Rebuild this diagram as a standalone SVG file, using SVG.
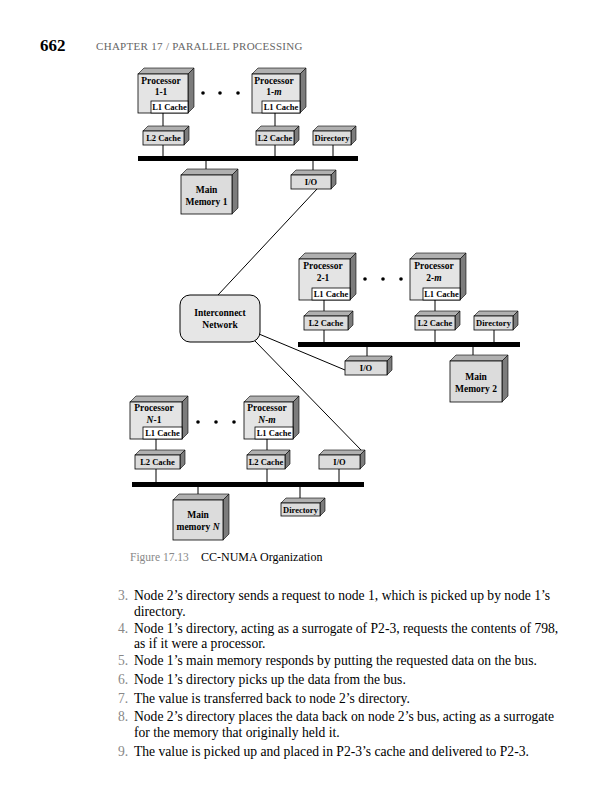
<svg xmlns="http://www.w3.org/2000/svg" width="604" height="800" viewBox="0 0 604 800">
<style>
.fr{fill:#dcdcdc;stroke:#000;stroke-width:0.8}
.pf{fill:#e4e4e4;stroke:#000;stroke-width:0.8}
.tp{fill:#b0b0b0;stroke:#000;stroke-width:0.6}
.rt{fill:#7c7c7c;stroke:#000;stroke-width:0.6}
.l1{fill:#fff;stroke:#000;stroke-width:0.8}
.ln{stroke:#000;stroke-width:1;fill:none}
.bus{fill:#000}
.t{font-family:"Liberation Serif","Times New Roman",serif;font-weight:bold;font-size:9.5px;text-anchor:middle;fill:#000}
.ts{font-family:"Liberation Serif","Times New Roman",serif;font-weight:bold;font-size:8.5px;text-anchor:middle;fill:#000}
.body{font-family:"Liberation Serif","Times New Roman",serif;font-size:13.6px;fill:#000}
.num{font-family:"Liberation Serif","Times New Roman",serif;font-size:13.6px;fill:#888}
</style>
<rect width="604" height="800" fill="#fff"/>
<text x="40" y="51" style="font-family:'Liberation Serif',serif;font-weight:bold;font-size:17px">662</text>
<text x="96" y="50" style="font-family:'Liberation Serif',serif;font-size:11px;letter-spacing:0.3px;fill:#666">CHAPTER 17 / PARALLEL PROCESSING</text>

<g id="connectors">
<line class="ln" x1="163" y1="113" x2="163" y2="158"/>
<line class="ln" x1="275" y1="113" x2="275" y2="158"/>
<line class="ln" x1="333" y1="145" x2="333" y2="158"/>
<line class="ln" x1="206" y1="158" x2="206" y2="175"/>
<line class="ln" x1="313" y1="158" x2="313" y2="175"/>
<line class="ln" x1="324" y1="300" x2="324" y2="344"/>
<line class="ln" x1="435" y1="300" x2="435" y2="344"/>
<line class="ln" x1="494" y1="330" x2="494" y2="344"/>
<line class="ln" x1="367" y1="344" x2="367" y2="361"/>
<line class="ln" x1="473" y1="344" x2="473" y2="361"/>
<line class="ln" x1="156" y1="439" x2="156" y2="484"/>
<line class="ln" x1="267" y1="439" x2="267" y2="484"/>
<line class="ln" x1="339" y1="469" x2="339" y2="484"/>
<line class="ln" x1="198" y1="484" x2="198" y2="500"/>
<line class="ln" x1="300" y1="484" x2="300" y2="503"/>
<line class="ln" x1="317" y1="189" x2="218" y2="295"/>
<line class="ln" x1="259" y1="334" x2="345" y2="370"/>
<line class="ln" x1="255" y1="341" x2="362" y2="451"/>
<rect class="bus" x="138" y="156" width="220" height="5"/>
<rect class="bus" x="298" y="342" width="222" height="5"/>
<rect class="bus" x="132" y="482" width="232" height="5"/>
</g>

<!-- Node 1 -->
<g id="p1-1">
<polygon class="tp" points="138,74 144,68 194,68 188,74"/>
<polygon class="rt" points="188,74 194,68 194,107 188,113"/>
<rect class="pf" x="138" y="74" width="50" height="39"/>
<rect class="l1" x="151" y="101" width="37" height="12"/>
<text class="t" x="161" y="84">Processor</text>
<text class="t" x="161" y="95">1-1</text>
<text class="ts" x="169.5" y="110">L1 Cache</text>
</g>
<g id="dots1"><circle cx="203" cy="93" r="1.8"/><circle cx="220" cy="93" r="1.8"/><circle cx="238" cy="93" r="1.8"/></g>
<g id="p1-m">
<polygon class="tp" points="252,74 258,68 306,68 300,74"/>
<polygon class="rt" points="300,74 306,68 306,107 300,113"/>
<rect class="pf" x="252" y="74" width="48" height="39"/>
<rect class="l1" x="262" y="101" width="38" height="12"/>
<text class="t" x="274" y="84">Processor</text>
<text class="t" x="274" y="95">1-<tspan font-style="italic">m</tspan></text>
<text class="ts" x="281" y="110">L1 Cache</text>
</g>
<g id="l2-1-1">
<polygon class="tp" points="143,131 148,126 189,126 184,131"/>
<polygon class="rt" points="184,131 189,126 189,140 184,145"/>
<rect class="fr" x="143" y="131" width="41" height="14"/>
<text class="ts" x="163.5" y="141">L2 Cache</text>
</g>
<g id="l2-1-m">
<polygon class="tp" points="256,131 261,126 299,126 294,131"/>
<polygon class="rt" points="294,131 299,126 299,140 294,145"/>
<rect class="fr" x="256" y="131" width="38" height="14"/>
<text class="ts" x="275" y="141">L2 Cache</text>
</g>
<g id="dir1">
<polygon class="tp" points="313,131 318,126 356,126 351,131"/>
<polygon class="rt" points="351,131 356,126 356,140 351,145"/>
<rect class="fr" x="313" y="131" width="38" height="14"/>
<text class="ts" x="332" y="141">Directory</text>
</g>
<g id="mm1">
<polygon class="tp" points="181,175 187,169 238,169 232,175"/>
<polygon class="rt" points="232,175 238,169 238,208 232,214"/>
<rect class="fr" x="181" y="175" width="51" height="39"/>
<text class="t" x="206.5" y="193">Main</text>
<text class="t" x="206.5" y="205">Memory 1</text>
</g>
<g id="io1">
<polygon class="tp" points="291,175 296,170 336,170 331,175"/>
<polygon class="rt" points="331,175 336,170 336,184 331,189"/>
<rect class="fr" x="291" y="175" width="40" height="14"/>
<text class="ts" x="311" y="185">I/O</text>
</g>

<g id="interconnect">
<rect x="180" y="295" width="80" height="47" rx="10" ry="10" fill="#e6e6e6" stroke="#000" stroke-width="1"/>
<text class="t" x="220" y="316">Interconnect</text>
<text class="t" x="220" y="328">Network</text>
</g>

<!-- Node 2 -->
<g id="p2-1">
<polygon class="tp" points="299,259 305,253 356,253 350,259"/>
<polygon class="rt" points="350,259 356,253 356,294 350,300"/>
<rect class="pf" x="299" y="259" width="51" height="41"/>
<rect class="l1" x="312" y="288" width="38" height="12"/>
<text class="t" x="323" y="269">Processor</text>
<text class="t" x="323" y="281">2-1</text>
<text class="ts" x="331" y="297">L1 Cache</text>
</g>
<g id="dots2"><circle cx="365" cy="279" r="1.8"/><circle cx="383" cy="279" r="1.8"/><circle cx="401" cy="279" r="1.8"/></g>
<g id="p2-m">
<polygon class="tp" points="410,259 416,253 466,253 460,259"/>
<polygon class="rt" points="460,259 466,253 466,294 460,300"/>
<rect class="pf" x="410" y="259" width="50" height="41"/>
<rect class="l1" x="423" y="288" width="37" height="12"/>
<text class="t" x="434" y="269">Processor</text>
<text class="t" x="434" y="281">2-<tspan font-style="italic">m</tspan></text>
<text class="ts" x="441.5" y="297">L1 Cache</text>
</g>
<g id="l2-2-1">
<polygon class="tp" points="304,316 309,311 353,311 348,316"/>
<polygon class="rt" points="348,316 353,311 353,325 348,330"/>
<rect class="fr" x="304" y="316" width="44" height="14"/>
<text class="ts" x="326" y="326">L2 Cache</text>
</g>
<g id="l2-2-m">
<polygon class="tp" points="415,316 420,311 460,311 455,316"/>
<polygon class="rt" points="455,316 460,311 460,325 455,330"/>
<rect class="fr" x="415" y="316" width="40" height="14"/>
<text class="ts" x="435" y="326">L2 Cache</text>
</g>
<g id="dir2">
<polygon class="tp" points="474,316 479,311 518,311 513,316"/>
<polygon class="rt" points="513,316 518,311 518,325 513,330"/>
<rect class="fr" x="474" y="316" width="39" height="14"/>
<text class="ts" x="493.5" y="326">Directory</text>
</g>
<g id="io2">
<polygon class="tp" points="345,361 350,356 392,356 387,361"/>
<polygon class="rt" points="387,361 392,356 392,370 387,375"/>
<rect class="fr" x="345" y="361" width="42" height="14"/>
<text class="ts" x="366" y="371">I/O</text>
</g>
<g id="mm2">
<polygon class="tp" points="450,361 456,355 508,355 502,361"/>
<polygon class="rt" points="502,361 508,355 508,396 502,402"/>
<rect class="fr" x="450" y="361" width="52" height="41"/>
<text class="t" x="476" y="380">Main</text>
<text class="t" x="476" y="392">Memory 2</text>
</g>

<!-- Node N -->
<g id="pN-1">
<polygon class="tp" points="130,402 136,396 188,396 182,402"/>
<polygon class="rt" points="182,402 188,396 188,433 182,439"/>
<rect class="pf" x="130" y="402" width="52" height="37"/>
<rect class="l1" x="143" y="427" width="39" height="12"/>
<text class="t" x="154" y="411">Processor</text>
<text class="t" x="154" y="423"><tspan font-style="italic">N</tspan>-1</text>
<text class="ts" x="162.5" y="436">L1 Cache</text>
</g>
<g id="dotsN"><circle cx="198" cy="422" r="1.8"/><circle cx="216" cy="422" r="1.8"/><circle cx="234" cy="422" r="1.8"/></g>
<g id="pN-m">
<polygon class="tp" points="244,402 250,396 299,396 293,402"/>
<polygon class="rt" points="293,402 299,396 299,433 293,439"/>
<rect class="pf" x="244" y="402" width="49" height="37"/>
<rect class="l1" x="255" y="427" width="38" height="12"/>
<text class="t" x="267" y="411">Processor</text>
<text class="t" x="267" y="423"><tspan font-style="italic">N</tspan>-<tspan font-style="italic">m</tspan></text>
<text class="ts" x="274" y="436">L1 Cache</text>
</g>
<g id="l2-N-1">
<polygon class="tp" points="135,455 140,450 185,450 180,455"/>
<polygon class="rt" points="180,455 185,450 185,464 180,469"/>
<rect class="fr" x="135" y="455" width="45" height="14"/>
<text class="ts" x="157.5" y="465">L2 Cache</text>
</g>
<g id="l2-N-m">
<polygon class="tp" points="247,455 252,450 290,450 285,455"/>
<polygon class="rt" points="285,455 290,450 290,464 285,469"/>
<rect class="fr" x="247" y="455" width="38" height="14"/>
<text class="ts" x="266" y="465">L2 Cache</text>
</g>
<g id="ioN">
<polygon class="tp" points="319,455 324,450 365,450 360,455"/>
<polygon class="rt" points="360,455 365,450 365,464 360,469"/>
<rect class="fr" x="319" y="455" width="41" height="14"/>
<text class="ts" x="339.5" y="465">I/O</text>
</g>
<g id="mmN">
<polygon class="tp" points="173,500 179,494 229,494 223,500"/>
<polygon class="rt" points="223,500 229,494 229,534 223,540"/>
<rect class="fr" x="173" y="500" width="50" height="40"/>
<text class="t" x="198" y="518">Main</text>
<text class="t" x="198" y="530">memory <tspan font-style="italic">N</tspan></text>
</g>
<g id="dirN">
<polygon class="tp" points="281,503 286,498 325,498 320,503"/>
<polygon class="rt" points="320,503 325,498 325,511 320,516"/>
<rect class="fr" x="281" y="503" width="39" height="13"/>
<text class="ts" x="300.5" y="512.5">Directory</text>
</g>

<text x="130" y="561" style="font-family:'Liberation Serif',serif;font-size:11.5px;fill:#888">Figure 17.13</text>
<text x="201" y="561" style="font-family:'Liberation Serif',serif;font-size:12px;fill:#000">CC-NUMA Organization</text>

<text class="num" x="118" y="600">3.</text>
<text class="body" x="134" y="600">Node 2’s directory sends a request to node 1, which is picked up by node 1’s</text>
<text class="body" x="134" y="616">directory.</text>
<text class="num" x="118" y="633">4.</text>
<text class="body" x="134" y="633">Node 1’s directory, acting as a surrogate of P2-3, requests the contents of 798,</text>
<text class="body" x="134" y="648">as if it were a processor.</text>
<text class="num" x="118" y="665">5.</text>
<text class="body" x="134" y="665">Node 1’s main memory responds by putting the requested data on the bus.</text>
<text class="num" x="118" y="684">6.</text>
<text class="body" x="134" y="684">Node 1’s directory picks up the data from the bus.</text>
<text class="num" x="118" y="703">7.</text>
<text class="body" x="134" y="703">The value is transferred back to node 2’s directory.</text>
<text class="num" x="118" y="721">8.</text>
<text class="body" x="134" y="721">Node 2’s directory places the data back on node 2’s bus, acting as a surrogate</text>
<text class="body" x="134" y="737">for the memory that originally held it.</text>
<text class="num" x="118" y="756">9.</text>
<text class="body" x="134" y="756">The value is picked up and placed in P2-3’s cache and delivered to P2-3.</text>
</svg>
